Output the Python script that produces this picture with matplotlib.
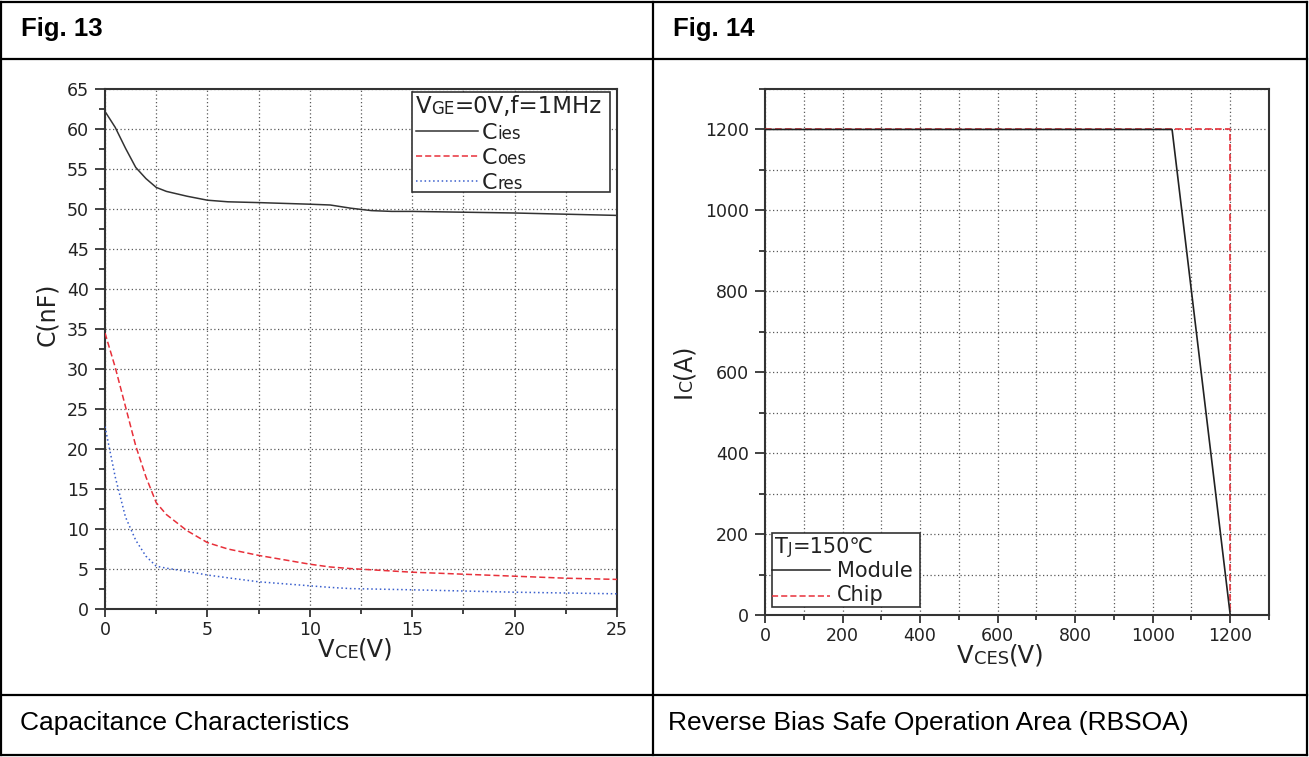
import matplotlib
matplotlib.use("Agg")
import matplotlib.pyplot as plt
from matplotlib.text import Annotation
from matplotlib.lines import Line2D
from matplotlib.patches import Rectangle
from matplotlib.ticker import MultipleLocator

# ---- Fig. 13 : capacitance vs collector-emitter voltage ----
vce = [0, 0.5, 1, 1.5, 2, 2.5, 3, 4, 5, 6, 7.5, 10, 11, 12, 13, 14, 15, 17.5, 20, 22.5, 25]
c_ies = [62.2, 60.2, 57.6, 55.2, 53.8, 52.7, 52.2, 51.6, 51.1, 50.9, 50.8, 50.6, 50.5,
         50.1, 49.8, 49.7, 49.7, 49.6, 49.5, 49.35, 49.2]
c_oes = [34.5, 30.2, 25.3, 20.4, 16.5, 13.3, 11.8, 9.8, 8.3, 7.5, 6.7, 5.6, 5.25,
         5.05, 4.9, 4.75, 4.6, 4.35, 4.1, 3.85, 3.7]
c_res = [22.8, 16.5, 11.5, 8.6, 6.6, 5.35, 5.1, 4.7, 4.25, 3.9, 3.4, 2.9, 2.7,
         2.55, 2.5, 2.45, 2.4, 2.25, 2.1, 2.0, 1.9]

# ---- Fig. 14 : reverse bias safe operating area ----
module_v = [0, 1050, 1200]
module_i = [1200, 1200, 0]
chip_v = [0, 1200, 1200]
chip_i = [1200, 1200, 0]

W, H = 1309, 757
plt.rcParams["font.family"] = ["DejaVu Sans"]
fig = plt.figure(figsize=(W / 100, H / 100), dpi=100)
fig.patch.set_facecolor("white")

TXT = "#222222"
SPINE = "#333333"


def fx(x):
    return x / W


def fy(y):
    return 1 - y / H


def rich(parts, x, y, rotation=0, zorder=6):
    """Draw a run of text pieces with differing sizes, one after another.
    x, y are pixel positions measured from the top-left corner."""
    if rotation == 0:
        a = Annotation(parts[0][0], xy=(x, H - y), xycoords="figure pixels",
                       ha="left", va="baseline", fontsize=parts[0][1],
                       color=TXT, zorder=zorder)
    else:
        a = Annotation(parts[0][0], xy=(x, H - y), xycoords="figure pixels",
                       ha="right", va="bottom", rotation=90,
                       fontsize=parts[0][1], color=TXT, zorder=zorder)
    fig.add_artist(a)
    prev = a
    for s, fs in parts[1:]:
        if rotation == 0:
            b = Annotation(s, xy=(1, 0), xycoords=prev, ha="left", va="bottom",
                           fontsize=fs, color=TXT, zorder=zorder)
        else:
            b = Annotation(s, xy=(1, 1), xycoords=prev, ha="right", va="bottom",
                           rotation=90, fontsize=fs, color=TXT, zorder=zorder)
        fig.add_artist(b)
        prev = b


# ---- table frame ----
for x0, y0, x1, y1 in [(1, 2, 1307, 2), (1, 59, 1307, 59), (1, 695, 1307, 695),
                       (1, 755, 1307, 755), (1, 2, 1, 755), (1307, 2, 1307, 755),
                       (653, 2, 653, 755)]:
    fig.add_artist(Line2D([fx(x0), fx(x1)], [fy(y0), fy(y1)],
                          transform=fig.transFigure, color="black", lw=1.6,
                          solid_capstyle="projecting", zorder=10))

for x, s in [(21, "Fig. 13"), (673, "Fig. 14")]:
    fig.text(fx(x), fy(29), s, fontfamily="Liberation Sans", fontweight="bold",
             fontsize=18.5, va="center", ha="left", color="black")
for x, s in [(20, "Capacitance Characteristics"),
             (668, "Reverse Bias Safe Operation Area (RBSOA)")]:
    fig.text(fx(x), fy(723), s, fontfamily="Liberation Sans", fontsize=19,
             va="center", ha="left", color="black")


def style(ax):
    for sp in ax.spines.values():
        sp.set_linewidth(1.5)
        sp.set_color(SPINE)
    ax.tick_params(which="both", direction="out", top=False, right=False,
                   color=SPINE, width=1.3, labelsize=12.5, labelcolor=TXT)
    ax.tick_params(axis="y", which="major", length=7.5, pad=4)
    ax.tick_params(axis="y", which="minor", length=4)
    ax.tick_params(axis="x", which="major", length=5.5, pad=3)
    ax.tick_params(axis="x", which="minor", length=3.5)


GRID = dict(linestyle=(0, (1, 2)), color="#5a5a5a", linewidth=0.9)

# ---- left chart ----
ax1 = fig.add_axes([fx(105), fy(609), (617 - 105) / W, (609 - 89) / H])
ax1.plot(vce, c_ies, color="#333333", lw=1.1, zorder=3)
ax1.plot(vce, c_oes, color="#e8303a", lw=1.1, ls=(0, (4, 2)), zorder=3)
ax1.plot(vce, c_res, color="#3a5fcd", lw=1.1, ls=(0, (1, 1.8)), zorder=3)
ax1.set_xlim(0, 25)
ax1.set_ylim(0, 65)
ax1.xaxis.set_major_locator(MultipleLocator(5))
ax1.xaxis.set_minor_locator(MultipleLocator(2.5))
ax1.yaxis.set_major_locator(MultipleLocator(5))
ax1.yaxis.set_minor_locator(MultipleLocator(2.5))
style(ax1)
ax1.grid(which="both", axis="x", **GRID)
ax1.grid(which="major", axis="y", **GRID)

ax1.add_patch(Rectangle((0.600, 0.802), 0.386, 0.192, transform=ax1.transAxes,
                        fc="white", ec=SPINE, lw=1.2, zorder=5))
for yy, col, ls in [(0.919, "#333333", "-"), (0.871, "#e8303a", (0, (4, 2))),
                    (0.823, "#3a5fcd", (0, (1, 1.8)))]:
    ax1.add_line(Line2D([0.608, 0.729], [yy, yy], transform=ax1.transAxes,
                        color=col, ls=ls, lw=1.1, zorder=6))
rich([("V", 16.5), ("GE", 12), ("=0V,f=1MHz", 16.5)], 416, 113)
rich([("C", 16), ("ies", 12)], 482, 139)
rich([("C", 16), ("oes", 12)], 482, 164)
rich([("C", 16), ("res", 12)], 482, 189)

rich([("V", 17.5), ("CE", 13), ("(V)", 17.5)], 318, 657)
rich([("C(nF)", 17)], 59, 346, rotation=90)

# ---- right chart ----
ax2 = fig.add_axes([fx(765), fy(615), (1269 - 765) / W, (615 - 89) / H])
ax2.plot(chip_v, chip_i, color="#e8303a", lw=1.2, ls=(0, (4, 2)), zorder=3)
ax2.plot(module_v, module_i, color="#222222", lw=1.2, zorder=4)
ax2.set_xlim(0, 1300)
ax2.set_ylim(0, 1300)
for axis in (ax2.xaxis, ax2.yaxis):
    axis.set_major_locator(MultipleLocator(200))
    axis.set_minor_locator(MultipleLocator(100))
style(ax2)
ax2.grid(which="both", axis="both", **GRID)

ax2.add_patch(Rectangle((0.0133, 0.0152), 0.2942, 0.1408, transform=ax2.transAxes,
                        fc="white", ec=SPINE, lw=1.2, zorder=5))
ax2.add_line(Line2D([0.0139, 0.129], [0.0856, 0.0856], transform=ax2.transAxes,
                    color="#222222", lw=1.1, zorder=6))
ax2.add_line(Line2D([0.0139, 0.129], [0.0367, 0.0367], transform=ax2.transAxes,
                    color="#e8303a", ls=(0, (4, 2)), lw=1.1, zorder=6))
rich([("T", 15), ("J", 11), ("=150℃", 15)], 775, 553)
rich([("Module", 15)], 837, 577)
rich([("Chip", 15)], 837, 601)

rich([("V", 17.5), ("CES", 13), ("(V)", 17.5)], 957, 663)
rich([("I", 17), ("C", 12.5), ("(A)", 17)], 696, 398, rotation=90)

fig.savefig("out.png", dpi=100, facecolor="white")
